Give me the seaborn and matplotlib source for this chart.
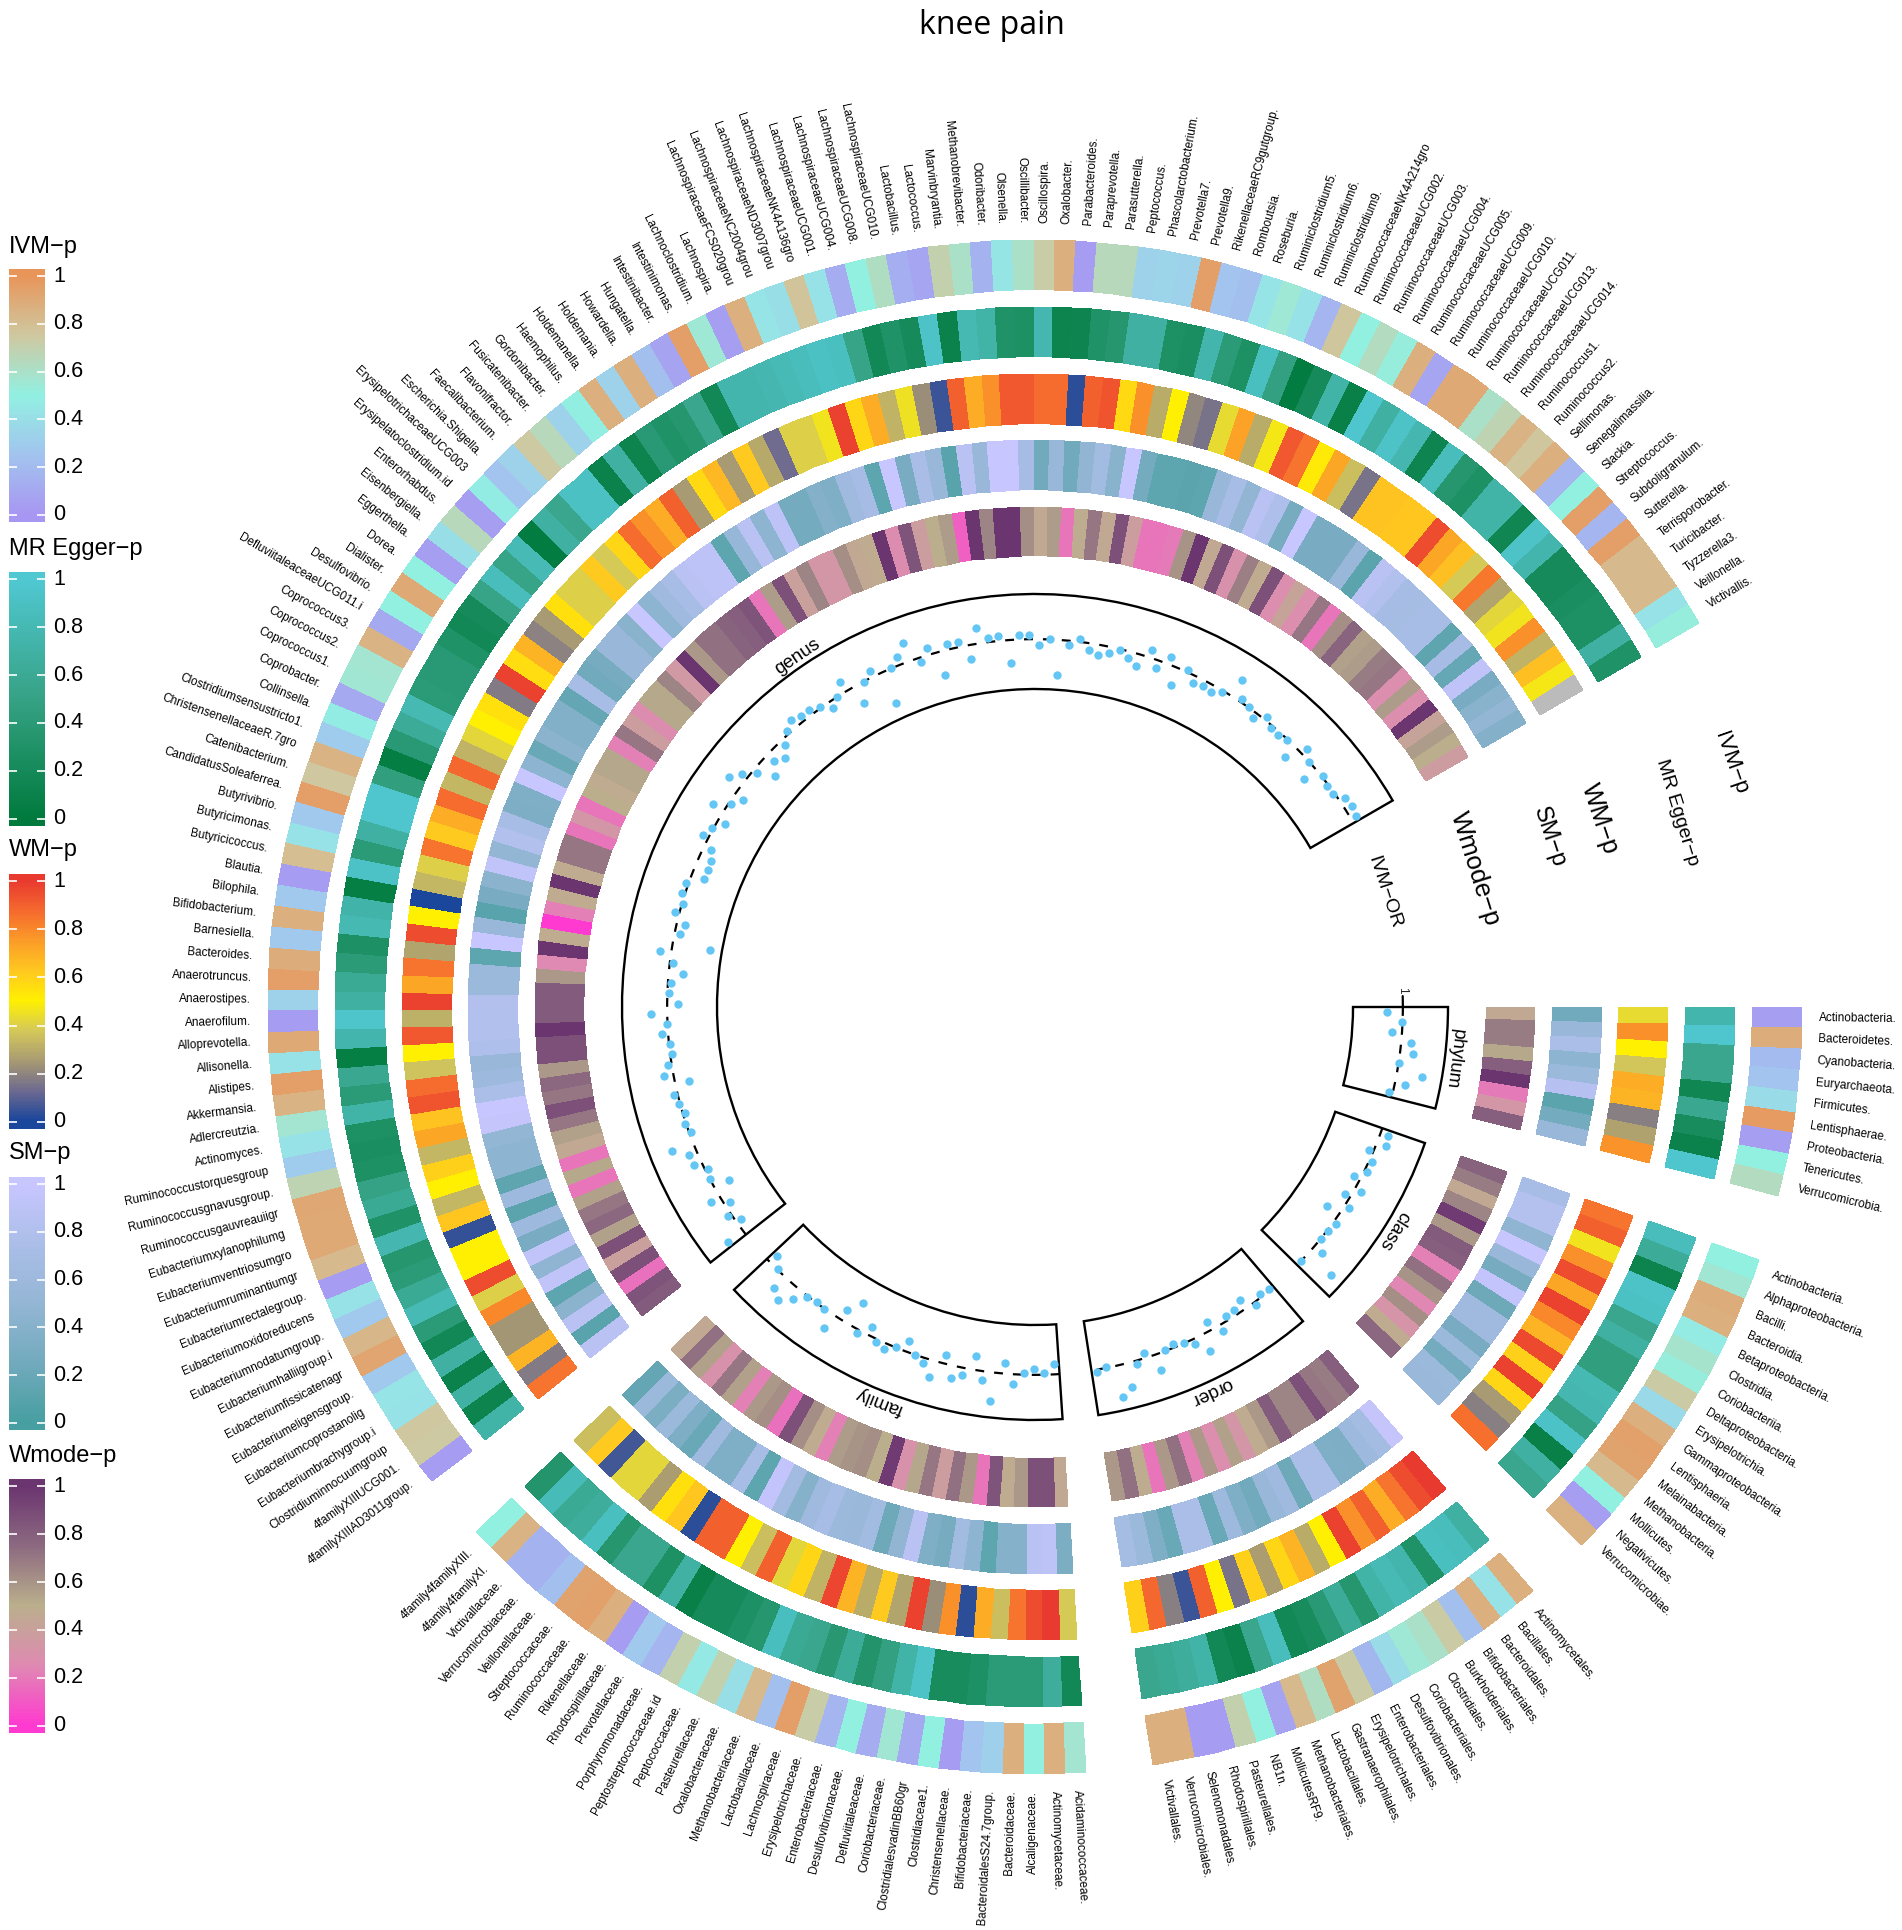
import numpy as np
import matplotlib
matplotlib.use("Agg")
import matplotlib.pyplot as plt
import seaborn as sns

nan = float("nan")

phylum_names = ["Actinobacteria.", "Bacteroidetes.", "Cyanobacteria.", "Euryarchaeota.", "Firmicutes.",
                "Lentisphaerae.", "Proteobacteria.", "Tenericutes.", "Verrucomicrobia."]
class_names = ["Actinobacteria.", "Alphaproteobacteria.", "Bacilli.", "Bacteroidia.", "Betaproteobacteria.",
               "Clostridia.", "Coriobacteriia.", "Deltaproteobacteria.", "Erysipelotrichia.",
               "Gammaproteobacteria.", "Lentisphaeria.", "Melainabacteria.", "Methanobacteria.",
               "Mollicutes.", "Negativicutes.", "Verrucomicrobiae."]
order_names = ["Actinomycetales.", "Bacillales.", "Bacteroidales.", "Bifidobacteriales.", "Burkholderiales.",
               "Clostridiales.", "Coriobacteriales.", "Desulfovibrionales.", "Enterobacteriales.",
               "Erysipelotrichales.", "Gastranaerophilales.", "Lactobacillales.", "Methanobacteriales.",
               "MollicutesRF9.", "NB1n.", "Pasteurellales.", "Rhodospirillales.", "Selenomonadales.",
               "Verrucomicrobiales.", "Victivallales."]
family_names = ["Acidaminococcaceae.", "Actinomycetaceae.", "Alcaligenaceae.", "Bacteroidaceae.",
                "BacteroidalesS24.7group.", "Bifidobacteriaceae.", "Christensenellaceae.", "Clostridiaceae1.",
                "ClostridialesvadinBB60gr", "Coriobacteriaceae.", "Defluviitaleaceae.", "Desulfovibrionaceae.",
                "Enterobacteriaceae.", "Erysipelotrichaceae.", "Lachnospiraceae.", "Lactobacillaceae.",
                "Methanobacteriaceae.", "Oxalobacteraceae.", "Pasteurellaceae.", "Peptococcaceae.",
                "Peptostreptococcaceae.id", "Porphyromonadaceae.", "Prevotellaceae.", "Rhodospirillaceae.",
                "Rikenellaceae.", "Ruminococcaceae.", "Streptococcaceae.", "Veillonellaceae.",
                "Verrucomicrobiaceae.", "Victivallaceae.", "4family4familyXI.", "4family4familyXIII."]
genus_names = ["4familyXIIIAD3011group.", "4familyXIIIUCG001.", "Clostridiuminnocuumgroup",
               "Eubacteriumbrachygroup.i", "Eubacteriumcoprostanolig", "Eubacteriumeligensgroup.",
               "Eubacteriumfissicatenagr", "Eubacteriumhalliigroup.i", "Eubacteriumnodatumgroup.",
               "Eubacteriumoxidoreducens", "Eubacteriumrectalegroup.", "Eubacteriumruminantiumgr",
               "Eubacteriumventriosumgro", "Eubacteriumxylanophilumg", "Ruminococcusgauvreauiigr",
               "Ruminococcusgnavusgroup.", "Ruminococcustorquesgroup", "Actinomyces.", "Adlercreutzia.",
               "Akkermansia.", "Alistipes.", "Allisonella.", "Alloprevotella.", "Anaerofilum.", "Anaerostipes.",
               "Anaerotruncus.", "Bacteroides.", "Barnesiella.", "Bifidobacterium.", "Bilophila.", "Blautia.",
               "Butyricicoccus.", "Butyricimonas.", "Butyrivibrio.", "CandidatusSoleaferrea.", "Catenibacterium.",
               "ChristensenellaceaeR.7gro", "Clostridiumsensustricto1.", "Collinsella.", "Coprobacter.",
               "Coprococcus1.", "Coprococcus2.", "Coprococcus3.", "DefluviitaleaceaeUCG011.i", "Desulfovibrio.",
               "Dialister.", "Dorea.", "Eggerthella.", "Eisenbergiella.", "Enterorhabdus.",
               "Erysipelatoclostridium.id", "ErysipelotrichaceaeUCG003", "Escherichia.Shigella.",
               "Faecalibacterium.", "Flavonifractor.", "Fusicatenibacter.", "Gordonibacter.", "Haemophilus.",
               "Holdemanella.", "Holdemania.", "Howardella.", "Hungatella.", "Intestinibacter.", "Intestinimonas.",
               "Lachnoclostridium.", "Lachnospira.", "LachnospiraceaeFCS020grou", "LachnospiraceaeNC2004grou",
               "LachnospiraceaeND3007grou", "LachnospiraceaeNK4A136gro", "LachnospiraceaeUCG001.",
               "LachnospiraceaeUCG004.", "LachnospiraceaeUCG008.", "LachnospiraceaeUCG010.", "Lactobacillus.",
               "Lactococcus.", "Marvinbryantia.", "Methanobrevibacter.", "Odoribacter.", "Olsenella.",
               "Oscillibacter.", "Oscillospira.", "Oxalobacter.", "Parabacteroides.", "Paraprevotella.",
               "Parasutterella.", "Peptococcus.", "Phascolarctobacterium.", "Prevotella7.", "Prevotella9.",
               "RikenellaceaeRC9gutgroup.", "Romboutsia.", "Roseburia.", "Ruminiclostridium5.", "Ruminiclostridium6.",
               "Ruminiclostridium9.", "RuminococcaceaeNK4A214gro", "RuminococcaceaeUCG002.", "RuminococcaceaeUCG003.",
               "RuminococcaceaeUCG004.", "RuminococcaceaeUCG005.", "RuminococcaceaeUCG009.", "RuminococcaceaeUCG010.",
               "RuminococcaceaeUCG011.", "RuminococcaceaeUCG013.", "RuminococcaceaeUCG014.", "Ruminococcus1.",
               "Ruminococcus2.", "Sellimonas.", "Senegalimassilia.", "Slackia.", "Streptococcus.", "Subdoligranulum.",
               "Sutterella.", "Terrisporobacter.", "Turicibacter.", "Tyzzerella3.", "Veillonella.", "Victivallis."]

# p values
phylum_ivm = [.05, .88, .2, .25, .38, .97, .05, .5, .63]
phylum_mr = [.75, .97, .55, .55, .15, .58, .22, .1, .97]
phylum_wm = [.43, .78, .5, .37, .7, .68, .18, .27, .77]
phylum_sm = [.25, .55, .75, .45, .58, .85, .12, .27, .55]
phylum_wmode = [.45, .68, .68, .52, .8, 1, .2, .33, .8]
phylum_or = [.933, .996, .958, 1.042, 1.055, 1, 1.109, 1.042, .983]

class_ivm = [.5, .56, .88, .87, .47, .58, .52, .73, .37, .87, .94, .93, .82, .5, .04, .86]
class_mr = [.85, .62, .12, .93, .9, .55, .68, .45, .45, .8, .78, .5, .92, .08, .68, .55]
class_wm = [.85, .9, .46, .78, .95, .72, .98, .8, .68, .96, .6, .98, .58, .25, .18, .86]
class_sm = [.72, .83, .83, .47, 1, .55, .28, .95, .23, .62, .62, .3, .58, .27, .58, .57]
class_wmode = [.78, .68, .45, .65, .97, .58, .82, .8, .22, .72, .6, .24, .62, .32, .47, .75]
class_or = [1.034, 1.042, .983, 1.013, 1.013, .971, 1.029, .975, 1.021, .941, 1.013, 1.004, 1, 1.042, 1.135, 1]

order_ivm = [.87, .42, .87, .22, .73, .6, .55, .38, .18, .73, .93, .62, .82, .07, .5, .7, .03, .03, .87, .87]
order_mr = [.68, .85, .88, .3, .75, .82, .72, .35, .62, .38, .22, .18, .85, .55, .1, .18, .72, .65, .6, .55]
order_wm = [1, .95, .85, .7, .9, .78, .98, .5, .3, .68, .58, .26, .6, .15, .5, .9, .05, .18, .88, .6]
order_sm = [.97, .67, .6, .33, .35, .75, .75, .23, .63, .55, .25, .35, .6, .2, .75, .75, .2, .35, .58, .68]
order_wmode = [.8, .68, .7, .87, .65, .65, .82, .58, .47, .33, .55, .28, .58, .22, .72, .58, .18, .48, .72, .58]
order_or = [.996, .987, 1.013, .958, .979, .979, 1.029, .962, 1.076, 1.021, 1, .983, .996, 1.067, .979, 1.013,
            1.101, 1.135, .996, 1.008]

family_ivm = [.57, .87, .5, .87, .32, .25, .03, .5, .1, .56, .12, .5, .17, .72, .95, .22, .82, .4, .7, .46, .7, .17,
              .27, .03, .87, .94, .93, .22, .15, .15, .85, .5]
family_mr = [.18, .65, .4, .4, .4, .28, .22, .22, .93, .72, .48, .32, .62, .37, .55, .6, .87, .35, .28, .2, .2, .08,
             .7, .27, .55, .55, .35, .88, .65, .6, .83, .33]
family_wm = [.38, 1, .95, .85, .35, .7, .03, .78, .22, .98, .28, .62, .3, .68, .97, .32, .58, .42, .9, .35, .5, .9,
             .9, .03, .63, .55, .26, .42, .42, .06, .62, .35]
family_sm = [.32, .9, .88, .4, .4, .13, .45, .65, .28, .35, .87, .48, .23, .65, .57, .58, .72, .62, .4, .66, .95,
             .13, .72, .35, .35, .62, .2, .33, .58, .32, .58, .17]
family_wmode = [.45, .87, .87, .58, .47, .85, .18, .58, .72, .38, .7, .53, .3, .97, .5, .62, .6, .57, .22, .47, .62,
                .87, .17, .62, .58, .22, .55, .7, .3, .55, .72, .45]
family_or = [.958, .992, .975, .992, 1.042, .954, 1.122, 1.038, .941, 1.029, 1.055, .962, 1.072, 1.021, 1, .954,
             .996, 1.025, 1.013, .962, 1.013, .891, .954, 1.067, 1.004, .996, 1.004, 1.046, 1.093, 1.067, .996, .962]

genus_ivm = [.03, .74, .75, .42, .43, .27, .92, .83, .27, .42, .03, .82, .9, .9, .91, .68, .3, .42, .57, .85,
             .95, .42, .9, .03, .33, .95, .88, .27, .87, .27, .03, .8, .42, .27, .95, .75, .85, .3, .48, .1,
             .56, .57, .85, .1, .5, .9, .5, .05, .4, .65, .05, .48, .25, .33, .74, .65, .33, .49, .87, .33,
             .87, .22, .07, .95, .55, .05, .87, .43, .4, .77, .42, .12, .5, .62, .13, .08, .7, .6, .15, .44,
             .6, .72, .87, .03, .65, .65, .33, .35, .33, .95, .25, .22, .43, .55, .42, .17, .76, .5, .63, .52,
             .87, .08, .9, .9, .6, .68, .85, .76, .87, .17, .5, .95, .17, .95, .82, .82, .82, .42, .52]
genus_mr = [.72, .12, .7, .1, .68, .18, .4, .82, .6, .4, .35, .78, .3, .6, .5, .27, .25, .27, .72, .4,
            .58, .06, .75, .95, .68, .6, .4, .28, .8, .73, .06, .92, .4, .68, .97, .97, .45, .05, .38, .62,
            .8, .4, .38, .38, .3, .18, .2, .52, .85, .52, .82, .03, .68, .55, .9, .9, .1, .68, .12, .38,
            .3, .35, .55, .18, .75, .75, .78, .82, .85, .9, .88, .52, .18, .3, .2, .93, .1, .8, .72, .3,
            .27, .78, .12, .13, .3, .35, .68, .68, .27, .25, .75, .4, .27, .88, .48, .03, .2, .72, .08, .97,
            .68, .93, .78, .13, .85, .35, .27, .72, .72, .15, .93, .75, .2, .2, .25, .27, .27, .68, .3]
genus_wm = [.85, .17, .68, .24, .24, .8, .4, .95, .5, .5, .04, .63, .33, .5, .6, .33, .72, .64, .93, .87,
            .36, .5, .92, .31, .98, .72, .85, .28, .95, .5, 0, .33, .4, .85, .62, .7, .87, .33, .88, .32,
            .42, .5, .55, .17, .98, .56, .68, .19, .25, .55, .4, .4, .62, .38, .58, .87, .78, .7, .9, .25,
            .57, .67, .25, .62, .29, .13, .4, .4, .46, .98, .58, .7, .32, .45, .22, .05, .9, .7, .78, .92,
            .92, .87, .87, .03, .9, .93, .57, .78, .3, .5, .2, .15, .43, .73, .3, .47, .92, .85, .52, .72,
            .35, .15, .64, .64, .63, .63, .95, .72, .65, .38, .84, .28, .42, .46, .78, .32, .65, .47, nan]
genus_sm = [.88, .1, .88, .43, .13, .93, .47, .93, .3, .6, .12, .6, .14, .45, .45, .5, .97, 1, .75, .6,
            .55, .78, .8, .8, .82, .58, .58, .13, 1, .55, .1, .3, .43, .93, .5, .8, .72, .33, .35, 1,
            .45, .2, .43, .37, .37, .17, .72, .25, .28, .55, .55, .42, 1, .45, .62, .72, .88, .9, .9, .13,
            .52, .88, .45, .9, .27, .27, .38, .35, .62, .7, .13, 1, .3, .73, .55, .1, .88, .55, 1, 1,
            .7, .25, .55, .25, .48, .65, .42, 1, .27, .13, .13, .12, .13, .55, .72, .48, .88, .78, .28, 1,
            .3, .3, .3, .55, .12, .88, .8, .7, .68, .72, .72, .14, .7, .18, .92, .3, .42, .5, .38]
genus_wmode = [.82, .85, .17, .87, .4, .87, .55, .75, .7, .55, .18, .52, .18, .45, .55, .7, .87, .7, .75, .58,
               .87, .87, 1, .82, .82, .82, .58, .25, 1, .47, 0, .22, .47, 1, .47, .7, .7, .18, .33, .18,
               .5, .47, .53, .53, .22, .7, .38, .27, .52, .52, .65, .35, 1, .58, .72, .72, .78, .8, .85, .18,
               .57, .87, .4, .65, .33, .33, .62, .45, .47, 1, .27, .85, .38, .5, .57, .12, 1, .65, 1, 1,
               .62, .45, .57, .18, .48, .7, .45, .87, .38, .18, .18, .2, .6, 1, .45, .87, .3, .67, .47, .87,
               .28, .42, .28, .7, .18, .62, .77, .55, .57, .68, .7, .28, .57, .28, 1, .42, .57, .5, .37]
genus_or = [1.08, .979, 1.017, .975, 1.042, .933, 1, .987, 1.034, 1.034, 1.097, .992, 1.004, .992, 1.004, 1.017,
            .941, 1.038, 1.017, .992, .996, 1.025, 1.004, 1.067, .954, .992, .987, .941, .987, 1.046,
            .84, .979, .966, 1.017, .996, 1.013, 1.008, .945, .945, .949, .966, 1.025, 1.008, .966, 1.055, .992,
            .958, 1.063, 1.025, .979, .916, .962, .937, .975, 1.013, 1.038, 1.025, 1.021, 1.004, .971,
            1, 1.046, .92, .996, 1.029, .857, 1, 1.034, 1.08, .983, 1.029, .899, 1.025, 1.021, .941, 1.067,
            1.017, 1.021, .903, 1.017, 1.017, .975, 1, .853, .983, 1.013, .971, .958, .975, .996,
            .971, .949, 1.034, .966, 1.034, .924, 1.008, .971, .975, .971, .992, 1.08, 1.013, 1.004, .975, 1.013,
            .987, .987, .996, .941, 1.029, 1, .937, 1.004, .992, .992, 1.025, 1.029, 1.025]

sectors = [
    ("phylum", phylum_names, phylum_wmode, phylum_sm, phylum_wm, phylum_mr, phylum_ivm, phylum_or),
    ("class", class_names, class_wmode, class_sm, class_wm, class_mr, class_ivm, class_or),
    ("order", order_names, order_wmode, order_sm, order_wm, order_mr, order_ivm, order_or),
    ("family", family_names, family_wmode, family_sm, family_wm, family_mr, family_ivm, family_or),
    ("genus", genus_names, genus_wmode, genus_sm, genus_wm, genus_mr, genus_ivm, genus_or),
]

sns.set_theme(style="white")
plt.rcParams["font.family"] = ["Liberation Sans", "DejaVu Sans"]

cmap_ivm = sns.blend_palette(["#A797F2", "#A2C4EE", "#92F0E2", "#CFC8A0", "#E8955A"], as_cmap=True)
cmap_mr = sns.blend_palette(["#007A3D", "#36A285", "#50C8D2"], as_cmap=True)
cmap_wm = sns.blend_palette(["#1A469C", "#6E6A90", "#A89A72", "#D4C85A", "#FFF000", "#FFC820", "#FB9C28",
                             "#F56A2E", "#E93A30"], as_cmap=True)
cmap_sm = sns.blend_palette(["#479FA1", "#72AABD", "#94B6D5", "#ABBEE8", "#C8C6FF"], as_cmap=True)
cmap_wmode = sns.blend_palette(["#FF3AD0", "#DF8AB2", "#BAAF8C", "#8C6980", "#6B3570"], as_cmap=True)
cmap_wm.set_bad("#BBBBBB")

W, H = 1902, 1930
CX, CY, R = 1035, 1007, 1000   # the polar axes is sized so that r is in pixels
tracks = [(451, 500, cmap_wmode), (517, 567, cmap_sm), (583, 633, cmap_wm), (650, 700, cmap_mr), (717, 767, cmap_ivm)]
BOX_IN, BOX_OUT = 318, 413
OR_LO, OR_HI = .79, 1.19
GAP = 5.0
CELL = (330.0 - 4 * GAP) / 196


def or_to_r(v):
    return BOX_IN + (np.asarray(v, dtype=float) - OR_LO) / (OR_HI - OR_LO) * (BOX_OUT - BOX_IN)


fig = plt.figure(figsize=(W / 100, H / 100), dpi=100, facecolor="white")
ax = fig.add_axes([(CX - R) / W, (H - CY - R) / H, 2 * R / W, 2 * R / H], projection="polar")
ax.set_theta_zero_location("E")
ax.set_theta_direction(-1)

start = 0.0
for name, labels, wmode, sm, wm, mr, ivm, odds in sectors:
    n = len(labels)
    edges = start + CELL * np.arange(n + 1)
    mids = (edges[:-1] + edges[1:]) / 2

    for (r0, r1, cmap), vals in zip(tracks, [wmode, sm, wm, mr, ivm]):
        data = np.ma.masked_invalid(np.array(vals, dtype=float))[None, :]
        ax.pcolormesh(np.radians(edges), [r0, r1], data, cmap=cmap, vmin=0, vmax=1, shading="flat")

    # box of the IVM-OR track
    ax.bar(np.radians((edges[0] + edges[-1]) / 2), BOX_OUT - BOX_IN, width=np.radians(edges[-1] - edges[0]),
           bottom=BOX_IN, facecolor="none", edgecolor="black", linewidth=1.7, zorder=3)

    # dashed line at OR = 1
    line_t = np.radians(np.r_[edges[0], mids, edges[-1]])
    sns.lineplot(x=line_t, y=or_to_r(np.ones(n + 2)), ax=ax, color="black", linewidth=1.6,
                 linestyle=(0, (4, 4.5)), sort=False, estimator=None, legend=False, zorder=3)
    sns.scatterplot(x=np.radians(mids), y=or_to_r(odds), ax=ax, color="#63C6F5", s=36, linewidth=0,
                    legend=False, zorder=4)

    mid = (edges[0] + edges[-1]) / 2
    ax.text(np.radians(mid), 423, name, rotation=270 - mid, rotation_mode="anchor", ha="center", va="center",
            fontsize=13.5, color="black")

    for t, lab in zip(mids, labels):
        if 90 < t < 270:
            ax.text(np.radians(t), 784, lab, rotation=180 - t, rotation_mode="anchor", ha="right", va="center",
                    fontsize=8.5, color="black")
        else:
            ax.text(np.radians(t), 784, lab, rotation=-t, rotation_mode="anchor", ha="left", va="center",
                    fontsize=8.5, color="black")
    start = edges[-1] + GAP

# the axis tick of the OR track sits above the phylum box
ax.plot(np.radians([-1.7, 0]), [or_to_r(1), or_to_r(1)], color="black", linewidth=1.6, zorder=3)
ax.text(np.radians(-2.6), or_to_r(1), "1", rotation=-90, rotation_mode="anchor", ha="center", va="center", fontsize=8.5)

track_titles = [("IVM\u2212p", 737, -19.3, 16), ("MR Egger\u2212p", 671, -16.9, 14), ("WM\u2212p", 595, -18.4, 18),
                ("SM\u2212p", 541, -18.3, 17), ("Wmode\u2212p", 461, -17.5, 18.5), ("IVM\u2212OR", 368, -18.2, 14)]
for txt, r, ang, size in track_titles:
    ax.text(np.radians(ang), r, txt, rotation=-(90 + ang), rotation_mode="anchor", ha="center", va="center",
            fontsize=size, color="black")

ax.set_ylim(0, R)
ax.axis("off")

# colour legends on the left
legends = [("IVM\u2212p", cmap_ivm, 269, 522, 247), ("MR Egger\u2212p", cmap_mr, 572, 826, 549),
           ("WM\u2212p", cmap_wm, 874, 1129, 850), ("SM\u2212p", cmap_sm, 1177, 1430, 1153),
           ("Wmode\u2212p", cmap_wmode, 1479, 1733, 1456)]
ticks = [0, .2, .4, .6, .8, 1]
for title, cmap, top, bottom, title_y in legends:
    cax = fig.add_axes([9 / W, (H - bottom) / H, 36 / W, (bottom - top) / H])
    ys = np.linspace(-.03, 1.03, 200)
    cax.pcolormesh([0, 1], ys, ys[:-1][:, None], cmap=cmap, vmin=0, vmax=1, shading="flat")
    cax.set_xlim(0, 1)
    cax.set_ylim(-.03, 1.03)
    cax.hlines(ticks, 0, .22, color="white", linewidth=1.2)
    cax.hlines(ticks, .78, 1, color="white", linewidth=1.2)
    cax.axis("off")
    for v in ticks:
        cax.text(1.22, v, f"{v:g}", ha="left", va="center", fontsize=15.5, color="black")
    fig.text(9 / W, 1 - title_y / H, title, ha="left", va="center", fontsize=17, color="black")

fig.text(992 / W, 1 - 25 / H, "knee pain", ha="center", va="center", fontsize=23, color="black",
         family=["Open Sans", "DejaVu Sans"])

fig.savefig("out.png", dpi=100, facecolor="white")
